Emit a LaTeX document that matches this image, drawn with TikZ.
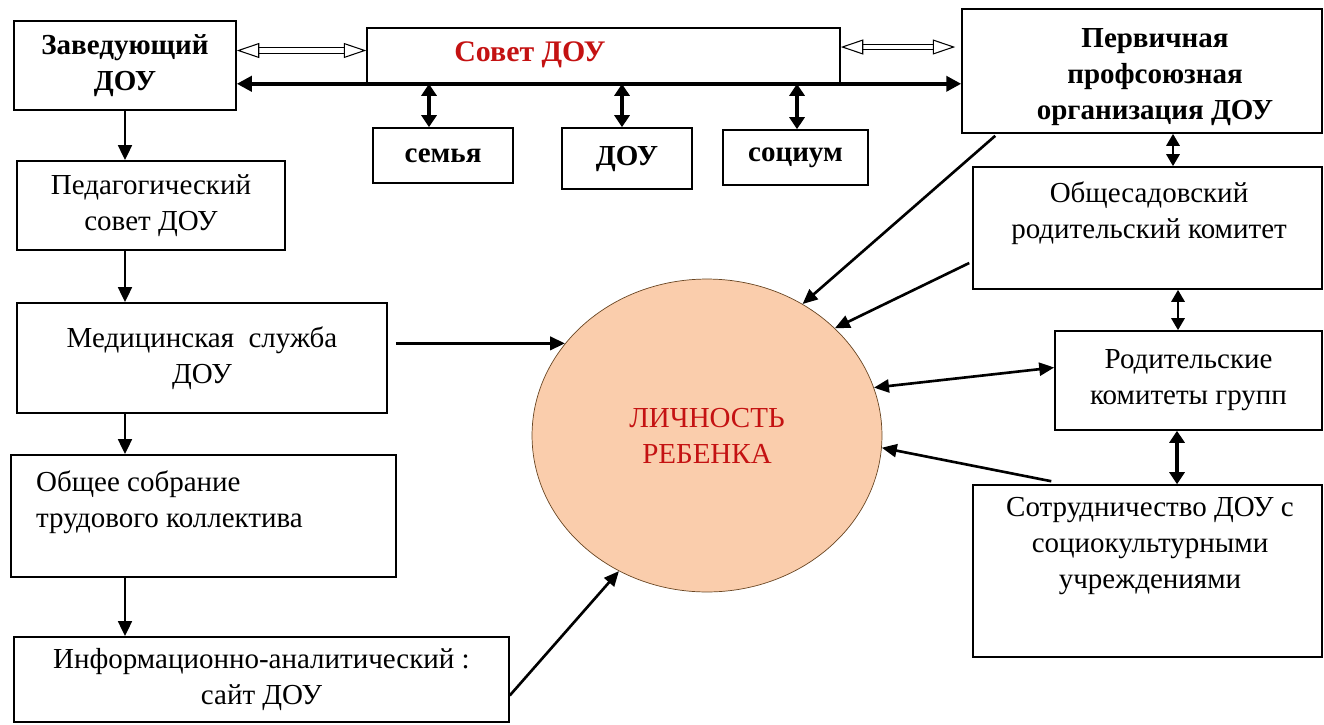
\documentclass[tikz,border=0pt]{standalone}
\usepackage{fontspec}
\setmainfont{Liberation Serif}
\usetikzlibrary{arrows.meta, positioning, shapes.geometric, calc}
\definecolor{titlered}{RGB}{196,18,18}
\definecolor{peach}{RGB}{250,205,172}
\newcommand{\boxfont}{\fontsize{16.5}{20.4}\selectfont}

\begin{document}
\begin{tikzpicture}[x=0.02cm,y=-0.02cm]
  % Styles
  \tikzset{
    box/.style={draw,line width=0.9pt,inner sep=1pt,align=center,font=\boxfont},
    txt/.style={align=center,font=\boxfont},
    spine/.style={line width=1.7pt,-{Triangle[length=0.3cm,width=0.27cm]}},
    bus/.style={line width=2.6pt,{Triangle[length=0.3cm,width=0.3cm]}-{Triangle[length=0.3cm,width=0.3cm]}},
    twoway/.style={line width=2.4pt,{Triangle[length=0.24cm,width=0.3cm]}-{Triangle[length=0.24cm,width=0.3cm]}},
    twowaythin/.style={line width=1.6pt,{Triangle[length=0.24cm,width=0.26cm]}-{Triangle[length=0.24cm,width=0.26cm]}},
    toc/.style={line width=1.5pt,-{Triangle[length=0.3cm,width=0.26cm]}},
    hollow/.style={double,double distance=2.4pt,line width=0.6pt,
      {Triangle[open,length=0.45cm,width=0.3cm,line width=0.6pt]}-{Triangle[open,length=0.45cm,width=0.3cm,line width=0.6pt]}}
  }
  \useasboundingbox (0,0) rectangle (1324,724);

  % Top row
  \node[box,minimum width=4.44cm,minimum height=1.78cm,font=\boxfont\bfseries] (zav) at (125,65.5) {Заведующий\\ДОУ};
  \node[box,minimum width=9.46cm,minimum height=1.10cm] (sovet) at (603.5,55.5) {};
  \node[txt,text=titlered,font=\fontsize{17}{20}\selectfont\bfseries] (sovettext) at (530,55) {Совет ДОУ};
  \node[box,minimum width=7.20cm,minimum height=2.48cm] (perv) at (1142,71) {};
  \node[txt,font=\boxfont\bfseries] (pervtext) at (1155,77) {Первичная\\профсоюзная\\организация ДОУ};

  % Council members
  \node[box,minimum width=2.80cm,minimum height=1.10cm,font=\boxfont\bfseries] (semya) at (443,155.5) {семья};
  \node[box,minimum width=2.60cm,minimum height=1.22cm,font=\boxfont\bfseries] (dou) at (627,158.5) {ДОУ};
  \node[box,minimum width=2.90cm,minimum height=1.10cm,font=\boxfont\bfseries] (socium) at (795.5,157.5) {социум};

  % Left column
  \node[box,minimum width=5.36cm,minimum height=1.78cm] (ped) at (151,205.5) {Педагогический\\совет ДОУ};
  \node[box,minimum width=7.40cm,minimum height=2.20cm] (med) at (202,358) {Медицинская\ \ служба\\ДОУ};
  \node[box,minimum width=7.70cm,minimum height=2.44cm] (obshee) at (203.5,516) {};
  \node[txt,align=left,anchor=west] (obsheetext) at (30,502) {Общее собрание\\трудового коллектива};
  \node[box,minimum width=9.90cm,minimum height=1.70cm] (info) at (261.5,679.5) {Информационно-аналитический :\\сайт ДОУ};

  % Right column
  \node[box,minimum width=6.98cm,minimum height=2.44cm] (obsh) at (1147.5,228) {};
  \node[txt] (obshtext) at (1149,213) {Общесадовский\\родительский комитет};
  \node[box,minimum width=5.34cm,minimum height=1.98cm] (rod) at (1188.5,380.5) {Родительские\\комитеты групп};
  \node[box,minimum width=6.98cm,minimum height=3.44cm] (sotr) at (1147.5,571) {};
  \node[txt] (sotrtext) at (1150,546) {Сотрудничество ДОУ с\\социокультурными\\учреждениями};

  % Centre
  \node[ellipse,draw=brown!55!black,line width=0.4pt,fill=peach,minimum width=7.00cm,minimum height=6.26cm,
        txt,text=titlered] (lich) at (707,435.5) {ЛИЧНОСТЬ\\РЕБЕНКА};

  % Council links
  \coordinate (h1) at ($(zav.east)+(0,-15)$);
  \coordinate (h2) at ($(sovet.east)+(0,-8.5)$);
  \draw[hollow] (h1) -- (h1 -| sovet.west);
  \draw[hollow] (h2) -- ($(h2 -| perv.west)+(-6,0)$);
  \draw[bus] (sovet.south -| zav.east) -- (sovet.south -| perv.west);
  \foreach \b/\sh in {semya/-14,dou/-5,socium/1.5}{
    \coordinate (t) at ($(\b.north)+(\sh,0)$);
    \draw[twoway] (t) -- (t |- sovet.south);
  }

  % Left spine
  \draw[spine] (zav.south) -- (zav.south |- ped.north);
  \draw[spine] (ped.south -| zav.south) -- (med.north -| zav.south);
  \draw[spine] (med.south -| zav.south) -- (obshee.north -| zav.south);
  \draw[spine] (obshee.south -| zav.south) -- (info.north -| zav.south);

  % Right column links
  \coordinate (r1) at ($(perv.south)+(31,0)$);
  \coordinate (r2) at ($(obsh.south)+(30.5,0)$);
  \coordinate (r3) at ($(rod.south)+(-11.5,0)$);
  \draw[twowaythin] (r1) -- (r1 |- obsh.north);
  \draw[twowaythin] (r2) -- (r2 |- rod.north);
  \draw[twoway] (r3) -- (r3 |- sotr.north);

  % Into the child
  \draw[toc,line width=2pt] ($(med.east |- lich.147.5)+(8,0)$) -- (lich.147.5);
  \draw[toc] ($(info.east)+(0,16)$) -- (lich.237.8);
  \draw[toc] ($(perv.south west)+(34,2)$) -- (lich.54.5);
  \draw[toc] ($(obsh.west)+(-3,35)$) -- (lich.40.8);
  \draw[toc,{Triangle[length=0.3cm,width=0.26cm]}-{Triangle[length=0.3cm,width=0.26cm]}] ($(rod.west)+(0,-13)$) -- (lich.16.2);
  \draw[toc] ($(sotr.north west)+(79,-3)$) -- (lich.-4.7);
\end{tikzpicture}
\end{document}
